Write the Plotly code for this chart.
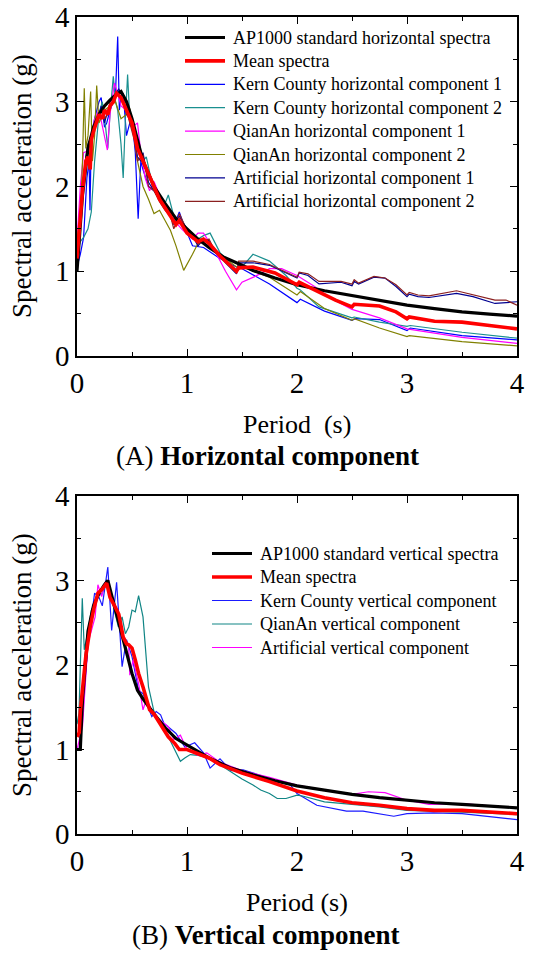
import plotly.graph_objects as go

# ---------------- Horizontal component data ----------------
T_AP_H = [0, 0.05, 0.1, 0.15, 0.2, 0.25, 0.3, 0.35, 0.4, 0.45, 0.5, 0.55, 0.6, 0.7, 0.8, 0.9, 1.0, 1.1, 1.2, 1.33, 1.5, 1.6, 1.8, 2.0, 2.25, 2.5, 2.75, 3.0, 3.25, 3.5, 3.75, 4.0]
SA_AP_H = [1.0, 1.9, 2.45, 2.7, 2.85, 2.95, 3.02, 3.08, 3.12, 3.0, 2.8, 2.55, 2.3, 2.0, 1.8, 1.62, 1.5, 1.38, 1.28, 1.17, 1.07, 1.01, 0.92, 0.84, 0.77, 0.715, 0.655, 0.60, 0.56, 0.52, 0.495, 0.47]

T_MEAN_H = [0, 0.02, 0.05, 0.08, 0.1, 0.12, 0.13, 0.15, 0.2, 0.23, 0.25, 0.28, 0.3, 0.33, 0.36, 0.4, 0.43, 0.45, 0.5, 0.53, 0.55, 0.6, 0.65, 0.7, 0.75, 0.8, 0.85, 0.9, 0.93, 1.0, 1.05, 1.1, 1.15, 1.2, 1.3, 1.45, 1.47, 1.6, 1.8, 2.0, 2.02, 2.2, 2.35, 2.5, 2.52, 2.75, 2.9, 3.0, 3.02, 3.25, 3.5, 3.75, 4.0]
SA_MEAN_H = [1.15, 1.5, 1.95, 2.3, 2.35, 2.2, 2.55, 2.65, 2.85, 2.8, 2.9, 2.85, 2.95, 3.0, 3.1, 3.05, 2.95, 2.9, 2.75, 2.55, 2.45, 2.3, 2.15, 1.98, 1.85, 1.75, 1.65, 1.55, 1.6, 1.45, 1.4, 1.35, 1.38, 1.33, 1.18, 1.0, 1.04, 1.05, 0.98, 0.84, 0.87, 0.75, 0.66, 0.58, 0.61, 0.59, 0.52, 0.44, 0.46, 0.41, 0.40, 0.36, 0.32]

T_KERN_H1 = [0, 0.03, 0.06, 0.09, 0.11, 0.118, 0.13, 0.16, 0.2, 0.22, 0.25, 0.27, 0.3, 0.33, 0.35, 0.37, 0.385, 0.4, 0.42, 0.45, 0.48, 0.5, 0.53, 0.556, 0.58, 0.6, 0.65, 0.7, 0.75, 0.8, 0.85, 0.9, 0.93, 0.97, 1.05, 1.15, 1.3, 1.45, 1.5, 1.75, 2.0, 2.03, 2.25, 2.5, 2.53, 2.75, 3.0, 3.03, 3.5, 4.0]
SA_KERN_H1 = [1.05, 1.2, 1.4, 2.1, 2.3, 1.72, 2.6, 2.8, 3.0, 3.05, 2.7, 2.75, 2.9, 3.0, 3.1, 3.77, 2.9, 3.05, 3.1, 2.6, 2.75, 2.8, 2.4, 1.62, 2.3, 2.2, 2.0, 1.95, 1.85, 1.75, 1.65, 1.6, 1.7, 1.55, 1.3, 1.28, 1.15, 1.05, 1.03, 0.85, 0.63, 0.67, 0.53, 0.42, 0.44, 0.43, 0.30, 0.33, 0.24, 0.19]

T_KERN_H2 = [0, 0.03, 0.06, 0.1, 0.13, 0.16, 0.2, 0.23, 0.26, 0.28, 0.3, 0.33, 0.35, 0.37, 0.4, 0.42, 0.44, 0.46, 0.48, 0.5, 0.55, 0.6, 0.63, 0.68, 0.75, 0.8, 0.83, 0.88, 0.95, 1.05, 1.1, 1.15, 1.21, 1.3, 1.45, 1.5, 1.6, 1.75, 1.9, 2.0, 2.03, 2.2, 2.5, 2.52, 2.75, 3.0, 3.03, 3.5, 4.0]
SA_KERN_H2 = [1.2, 1.35, 1.4, 1.5, 1.7, 2.3, 2.85, 3.0, 2.7, 2.45, 2.85, 3.3, 3.0, 2.9, 2.5, 2.1, 2.8, 3.32, 2.8, 2.7, 2.45, 2.3, 2.35, 2.05, 1.85, 1.8, 1.9, 1.65, 1.55, 1.45, 1.38, 1.42, 1.45, 1.22, 1.0, 1.05, 1.2, 1.12, 0.95, 0.80, 0.78, 0.58, 0.45, 0.46, 0.40, 0.35, 0.36, 0.28, 0.21]

T_QA_H1 = [0, 0.03, 0.06, 0.1, 0.13, 0.16, 0.2, 0.24, 0.276, 0.3, 0.34, 0.37, 0.4, 0.45, 0.5, 0.55, 0.58, 0.62, 0.66, 0.7, 0.75, 0.85, 0.95, 1.05, 1.1, 1.15, 1.25, 1.35, 1.45, 1.5, 1.62, 1.75, 1.86, 2.0, 2.16, 2.28, 2.5, 2.75, 3.0, 3.5, 4.0]
SA_QA_H1 = [1.35, 2.0, 2.4, 2.42, 2.55, 2.8, 2.9, 2.65, 2.43, 2.85, 3.22, 3.1, 2.95, 2.9, 2.7, 2.75, 2.4, 2.1, 1.95, 2.06, 1.9, 1.65, 1.5, 1.38, 1.45, 1.45, 1.25, 1.0, 0.78, 0.87, 0.94, 1.03, 1.03, 0.95, 0.82, 0.70, 0.55, 0.45, 0.32, 0.22, 0.15]

T_QA_H2 = [0, 0.03, 0.05, 0.066, 0.08, 0.1, 0.124, 0.14, 0.16, 0.179, 0.2, 0.25, 0.3, 0.35, 0.4, 0.45, 0.48, 0.52, 0.55, 0.6, 0.65, 0.7, 0.75, 0.8, 0.85, 0.9, 0.97, 1.05, 1.12, 1.2, 1.3, 1.45, 1.5, 1.75, 2.0, 2.03, 2.25, 2.5, 2.52, 2.75, 3.0, 3.02, 3.5, 4.0]
SA_QA_H2 = [1.4, 1.6, 2.3, 3.16, 2.45, 2.6, 3.12, 2.3, 2.6, 3.19, 2.75, 2.9, 2.95, 3.0, 2.8, 2.85, 2.92, 2.6, 2.3, 2.0, 1.85, 1.68, 1.72, 1.6, 1.48, 1.3, 1.01, 1.2, 1.38, 1.33, 1.2, 1.05, 1.05, 0.93, 0.72, 0.76, 0.56, 0.42, 0.44, 0.33, 0.23, 0.24, 0.17, 0.12]

T_ART_H = [0, 0.03, 0.05, 0.08, 0.1, 0.15, 0.2, 0.22, 0.25, 0.28, 0.3, 0.33, 0.35, 0.38, 0.42, 0.45, 0.48, 0.52, 0.55, 0.58, 0.6, 0.65, 0.7, 0.75, 0.8, 0.85, 0.88, 0.93, 1.0, 1.05, 1.1, 1.15, 1.2, 1.25, 1.35, 1.45, 1.47, 1.6, 1.75, 2.0, 2.02, 2.1, 2.2, 2.4, 2.5, 2.52, 2.56, 2.7, 2.8, 2.9, 3.0, 3.02, 3.1, 3.2, 3.45, 3.6, 3.8, 3.9, 4.0]
SA_ART_H1 = [1.0, 1.5, 2.0, 2.35, 2.5, 2.65, 2.85, 2.95, 2.75, 2.9, 2.95, 3.0, 3.1, 3.15, 3.05, 2.85, 2.8, 2.6, 2.35, 2.3, 2.4, 2.05, 1.95, 1.85, 1.75, 1.65, 1.55, 1.65, 1.5, 1.42, 1.3, 1.38, 1.36, 1.25, 1.1, 0.97, 1.1, 1.1, 1.07, 0.92, 0.98, 0.95, 0.85, 0.87, 0.83, 0.88, 0.85, 0.93, 0.92, 0.82, 0.70, 0.73, 0.70, 0.69, 0.74, 0.70, 0.62, 0.63, 0.64]
SA_ART_H2 = [1.05, 1.55, 2.05, 2.3, 2.45, 2.7, 2.8, 2.9, 2.8, 2.85, 3.0, 3.05, 3.08, 3.1, 3.0, 2.9, 2.75, 2.55, 2.3, 2.35, 2.38, 2.0, 1.95, 1.82, 1.72, 1.65, 1.5, 1.68, 1.48, 1.4, 1.32, 1.35, 1.38, 1.25, 1.12, 0.98, 1.12, 1.12, 1.08, 0.93, 0.99, 0.97, 0.88, 0.88, 0.85, 0.9, 0.86, 0.94, 0.92, 0.84, 0.72, 0.75, 0.72, 0.71, 0.77, 0.72, 0.66, 0.66, 0.60]

# ---------------- Vertical component data ----------------
T_AP_V = [0, 0.03, 0.05, 0.1, 0.15, 0.2, 0.25, 0.28, 0.32, 0.4, 0.5, 0.55, 0.6, 0.7, 0.8, 0.9, 1.0, 1.2, 1.4, 1.6, 1.8, 2.0, 2.25, 2.5, 2.75, 3.0, 3.25, 3.5, 3.75, 4.0]
SA_AP_V = [1.0, 1.0, 1.6, 2.4, 2.7, 2.85, 2.95, 3.0, 2.8, 2.4, 1.9, 1.7, 1.6, 1.42, 1.26, 1.13, 1.05, 0.9, 0.78, 0.7, 0.63, 0.57, 0.52, 0.47, 0.43, 0.40, 0.37, 0.35, 0.33, 0.31]

T_MEAN_V = [0, 0.02, 0.03, 0.05, 0.08, 0.12, 0.15, 0.19, 0.23, 0.27, 0.3, 0.345, 0.38, 0.42, 0.45, 0.47, 0.5, 0.53, 0.56, 0.6, 0.66, 0.7, 0.77, 0.83, 0.89, 0.93, 1.0, 1.1, 1.2, 1.3, 1.5, 1.75, 1.9, 2.0, 2.25, 2.5, 2.75, 3.0, 3.25, 3.5, 4.0]
SA_MEAN_V = [1.15, 1.2, 1.45, 1.74, 2.1, 2.45, 2.65, 2.85, 2.9, 2.97, 2.8, 2.69, 2.6, 2.33, 2.25, 2.24, 2.2, 2.06, 1.9, 1.74, 1.47, 1.42, 1.27, 1.15, 1.07, 1.0, 1.0, 0.95, 0.9, 0.82, 0.72, 0.62, 0.55, 0.51, 0.43, 0.37, 0.34, 0.30, 0.28, 0.28, 0.24]

T_KERN_V = [0, 0.02, 0.05, 0.1, 0.16, 0.2, 0.23, 0.26, 0.28, 0.315, 0.36, 0.41, 0.45, 0.5, 0.56, 0.6, 0.68, 0.72, 0.76, 0.79, 0.86, 0.9, 0.98, 1.07, 1.15, 1.21, 1.3, 1.4, 1.51, 1.7, 1.94, 2.0, 2.18, 2.45, 2.6, 2.88, 3.0, 3.24, 3.5, 4.0]
SA_KERN_V = [1.0, 1.0, 1.39, 2.26, 2.85, 2.8, 2.7, 2.95, 3.16, 2.41, 2.98, 1.98, 2.3, 2.1, 1.7, 1.66, 1.39, 1.45, 1.41, 1.31, 1.23, 1.19, 1.03, 1.08, 0.96, 0.78, 0.89, 0.75, 0.76, 0.68, 0.58, 0.48, 0.34, 0.27, 0.27, 0.21, 0.24, 0.25, 0.24, 0.17]

T_QA_V = [0, 0.018, 0.048, 0.066, 0.1, 0.13, 0.19, 0.23, 0.27, 0.316, 0.376, 0.41, 0.44, 0.47, 0.5, 0.53, 0.56, 0.6, 0.65, 0.71, 0.8, 0.87, 0.94, 0.98, 1.03, 1.1, 1.2, 1.3, 1.4, 1.5, 1.6, 1.67, 1.75, 1.82, 1.9, 2.0, 2.05, 2.25, 2.5, 2.75, 3.0, 3.5, 4.0]
SA_QA_V = [1.3, 1.43, 2.79, 2.18, 2.4, 2.65, 2.81, 2.85, 2.97, 2.77, 2.45, 2.57, 2.37, 2.45, 2.65, 2.63, 2.82, 2.57, 1.74, 1.39, 1.23, 1.05, 0.86, 0.9, 0.94, 0.93, 0.9, 0.82, 0.73, 0.65, 0.58, 0.52, 0.48, 0.42, 0.42, 0.46, 0.45, 0.38, 0.35, 0.32, 0.28, 0.26, 0.23]

T_ART_V = [0, 0.01, 0.05, 0.1, 0.165, 0.19, 0.225, 0.255, 0.285, 0.345, 0.41, 0.47, 0.48, 0.51, 0.56, 0.6, 0.63, 0.71, 0.83, 0.88, 0.94, 1.0, 1.1, 1.18, 1.3, 1.5, 1.75, 2.0, 2.25, 2.5, 2.65, 2.8, 3.0, 3.2, 3.5, 4.0]
SA_ART_V = [1.0, 1.05, 1.27, 2.26, 2.57, 2.95, 2.81, 2.98, 2.93, 2.69, 2.37, 2.22, 1.88, 2.06, 1.78, 1.47, 1.59, 1.39, 1.27, 1.12, 1.17, 1.0, 0.93, 0.96, 0.85, 0.75, 0.67, 0.58, 0.52, 0.47, 0.5, 0.49, 0.40, 0.35, 0.36, 0.31]

TICK_VALS = [0, 1, 2, 3, 4]
FONT = "Liberation Serif, Times New Roman, serif"

W, H = 535, 954

def px(x):
    return x / W

def py(y):
    return 1 - y / H

horizontal = [
    ("AP1000 standard horizontal spectra", T_AP_H, SA_AP_H, "#000000", 3.2),
    ("Mean spectra", T_MEAN_H, SA_MEAN_H, "#ff0000", 3.6),
    ("Kern County horizontal component 1", T_KERN_H1, SA_KERN_H1, "#0000ff", 1.2),
    ("Kern County horizontal component 2", T_KERN_H2, SA_KERN_H2, "#1a9090", 1.2),
    ("QianAn horizontal component 1", T_QA_H1, SA_QA_H1, "#ff00ff", 1.2),
    ("QianAn horizontal component 2", T_QA_H2, SA_QA_H2, "#808000", 1.2),
    ("Artificial horizontal component 1", T_ART_H, SA_ART_H1, "#000090", 1.2),
    ("Artificial horizontal component 2", T_ART_H, SA_ART_H2, "#8b2020", 1.2),
]
vertical = [
    ("AP1000 standard vertical spectra", T_AP_V, SA_AP_V, "#000000", 3.2),
    ("Mean spectra", T_MEAN_V, SA_MEAN_V, "#ff0000", 3.6),
    ("Kern County vertical component", T_KERN_V, SA_KERN_V, "#1a1aff", 1.2),
    ("QianAn vertical component", T_QA_V, SA_QA_V, "#108585", 1.2),
    ("Artificial vertical component", T_ART_V, SA_ART_V, "#ff00ff", 1.2),
]

fig = go.Figure()
shapes = []
annotations = []

def add_group(series, xa, ya, leg_x0, leg_y0, leg_dy):
    # thin lines first, thick (standard and mean) on top
    order = list(range(2, len(series))) + [0, 1]
    for i in order:
        name, t, sa, col, w = series[i]
        fig.add_trace(go.Scatter(x=t, y=sa, mode="lines", name=name,
                                 line=dict(color=col, width=w),
                                 xaxis=xa, yaxis=ya, showlegend=False))
    # manual legend (line sample + label)
    for i, (name, t, sa, col, w) in enumerate(series):
        yy = leg_y0 + leg_dy * i
        shapes.append(dict(type="line", xref="paper", yref="paper",
                           x0=px(leg_x0), x1=px(leg_x0 + 40), y0=py(yy), y1=py(yy),
                           line=dict(color=col, width=w)))
        annotations.append(dict(text=name, x=px(leg_x0 + 46), y=py(yy),
                                xanchor="left", yanchor="middle", size=18))

add_group(horizontal, "x", "y", 185, 37.5, 23.4)
add_group(vertical, "x2", "y2", 212, 553.5, 23.5)

axis_common = dict(
    range=[0, 4], showline=True, linecolor="black", linewidth=1.5, mirror="allticks",
    ticks="inside", ticklen=7, tickwidth=1.3, tickcolor="black",
    tickvals=TICK_VALS, showgrid=False, zeroline=False, automargin=False,
    tickfont=dict(family=FONT, size=29, color="black"),
    minor=dict(dtick=0.5, ticks="inside", ticklen=4, tickwidth=1.2, tickcolor="black", showgrid=False),
)

xdom = [px(77), px(517)]
fig.update_layout(
    width=W, height=H,
    margin=dict(l=0, r=0, t=0, b=0, autoexpand=False),
    paper_bgcolor="white", plot_bgcolor="white",
    font=dict(family=FONT, color="black"),
    showlegend=False,
    xaxis=dict(domain=xdom, anchor="y", **axis_common),
    yaxis=dict(domain=[py(356), py(17)], anchor="x", **axis_common),
    xaxis2=dict(domain=xdom, anchor="y2", **axis_common),
    yaxis2=dict(domain=[py(834), py(496)], anchor="x2", **axis_common),
    shapes=shapes,
)

annotations += [
    dict(text="Spectral acceleration (g)", x=px(22), y=py(186), textangle=-90, size=27),
    dict(text="Period\u00a0\u00a0(s)", x=px(297), y=py(425), size=26),
    dict(text="(A) <b>Horizontal component</b>", x=px(267), y=py(456), size=27),
    dict(text="Spectral acceleration (g)", x=px(22), y=py(665), textangle=-90, size=27),
    dict(text="Period (s)", x=px(297), y=py(902), size=26),
    dict(text="(B) <b>Vertical component</b>", x=px(265), y=py(935), size=27),
]
for a in annotations:
    fig.add_annotation(xref="paper", yref="paper", showarrow=False,
                       xanchor=a.get("xanchor", "center"), yanchor=a.get("yanchor", "middle"),
                       font=dict(family=FONT, color="black", size=a["size"]),
                       text=a["text"], x=a["x"], y=a["y"], textangle=a.get("textangle", 0))

fig.write_html("out.html")
